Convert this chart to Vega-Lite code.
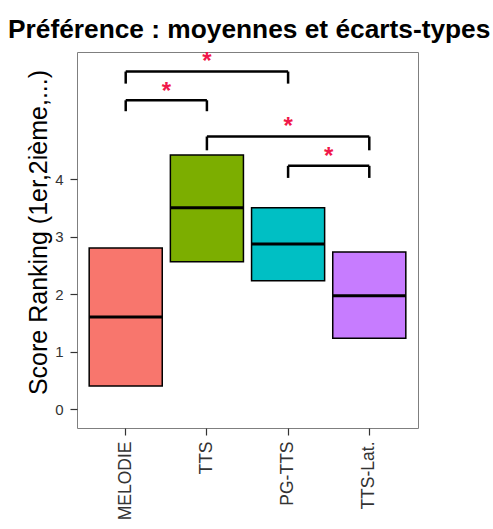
{
  "$schema": "https://vega.github.io/schema/vega-lite/v6.json",
  "autosize": {"type": "none"},
  "width": 341,
  "height": 376,
  "padding": {"left": 77, "top": 52, "right": 75, "bottom": 101},
  "background": "white",
  "title": {
    "text": "Préférence : moyennes et écarts-types",
    "anchor": "start",
    "frame": "group",
    "dx": -69,
    "offset": 7,
    "fontSize": 26.3,
    "font": "Liberation Sans",
    "fontWeight": "bold",
    "color": "black"
  },
  "datasets": {
    "scores": [
      {"cond": "MELODIE", "mean": 1.60, "low": 0.40, "high": 2.80},
      {"cond": "TTS", "mean": 3.50, "low": 2.56, "high": 4.42},
      {"cond": "PG-TTS", "mean": 2.87, "low": 2.23, "high": 3.50},
      {"cond": "TTS-Lat.", "mean": 1.97, "low": 1.23, "high": 2.73}
    ],
    "brackets": [
      {"from": "MELODIE", "to": "PG-TTS", "top": 5.87, "low": 5.66},
      {"from": "MELODIE", "to": "TTS", "top": 5.37, "low": 5.18},
      {"from": "TTS", "to": "TTS-Lat.", "top": 4.74, "low": 4.50},
      {"from": "PG-TTS", "to": "TTS-Lat.", "top": 4.23, "low": 4.02}
    ]
  },
  "encoding": {
    "x": {
      "field": "cond",
      "type": "nominal",
      "sort": ["MELODIE", "TTS", "PG-TTS", "TTS-Lat."],
      "scale": {"domain": ["MELODIE", "TTS", "PG-TTS", "TTS-Lat."], "paddingInner": 0.1, "paddingOuter": 0.15},
      "axis": {
        "title": null,
        "labelAngle": -90,
        "labelFontSize": 17.5,
        "labelColor": "#333333",
        "labelFont": "Liberation Sans",
        "labelPadding": 6,
        "tickSize": 7,
        "tickColor": "#333333",
        "tickWidth": 1.2,
        "domain": false,
        "grid": false
      }
    }
  },
  "layer": [
    {
      "data": {"name": "scores"},
      "mark": {"type": "bar", "stroke": "black", "strokeWidth": 1.5, "opacity": 1},
      "encoding": {
        "y": {
          "field": "low",
          "type": "quantitative",
          "scale": {"domain": [-0.33, 6.21], "nice": false, "zero": false},
          "axis": {
            "title": "Score Ranking (1er,2ième,...)",
            "titleFontSize": 25,
            "titleFontWeight": "normal",
            "titleFont": "Liberation Sans",
            "titleColor": "black",
            "titlePadding": 3,
            "titleY": 180,
            "values": [0, 1, 2, 3, 4],
            "format": "d",
            "labelFontSize": 15,
            "labelColor": "#333333",
            "labelFont": "Liberation Sans",
            "labelPadding": 7,
            "tickSize": 7,
            "tickColor": "#333333",
            "tickWidth": 1.2,
            "domain": false,
            "grid": false
          }
        },
        "y2": {"field": "high"},
        "color": {
          "field": "cond",
          "type": "nominal",
          "scale": {"domain": ["MELODIE", "TTS", "PG-TTS", "TTS-Lat."], "range": ["#F8766D", "#7CAE00", "#00BFC4", "#C77CFF"]},
          "legend": null
        }
      }
    },
    {
      "data": {"name": "scores"},
      "mark": {"type": "bar", "fill": "black", "stroke": "black", "strokeWidth": 3},
      "encoding": {
        "y": {"field": "mean", "type": "quantitative"},
        "y2": {"field": "mean"}
      }
    },
    {
      "data": {"name": "brackets"},
      "mark": {"type": "rule", "color": "black", "strokeWidth": 2.5},
      "encoding": {
        "x": {"field": "from", "type": "nominal"},
        "x2": {"field": "to"},
        "y": {"field": "top", "type": "quantitative"}
      }
    },
    {
      "data": {"name": "brackets"},
      "transform": [{"fold": ["from", "to"], "as": ["side", "end"]}],
      "mark": {"type": "rule", "color": "black", "strokeWidth": 2.5},
      "encoding": {
        "x": {"field": "end", "type": "nominal"},
        "y": {"field": "top", "type": "quantitative"},
        "y2": {"field": "low"}
      }
    },
    {
      "data": {"values": [
        {"cond": "TTS", "star": 6.10, "label": "*"},
        {"cond": "PG-TTS", "star": 4.97, "label": "*"}
      ]},
      "mark": {"type": "text", "color": "#F0184A", "fontSize": 24, "fontWeight": "bold", "font": "Liberation Sans", "baseline": "middle", "dy": 4},
      "encoding": {
        "y": {"field": "star", "type": "quantitative"},
        "text": {"field": "label"}
      }
    },
    {
      "data": {"values": [
        {"cond": "MELODIE", "star": 5.58, "label": "*"},
        {"cond": "PG-TTS", "star": 4.45, "label": "*"}
      ]},
      "mark": {"type": "text", "color": "#F0184A", "fontSize": 24, "fontWeight": "bold", "font": "Liberation Sans", "baseline": "middle", "dy": 4},
      "encoding": {
        "x": {"field": "cond", "type": "nominal", "bandPosition": 1.0556},
        "y": {"field": "star", "type": "quantitative"},
        "text": {"field": "label"}
      }
    }
  ],
  "config": {
    "view": {"stroke": "#7f7f7f", "strokeWidth": 1},
    "font": "Liberation Sans"
  }
}
